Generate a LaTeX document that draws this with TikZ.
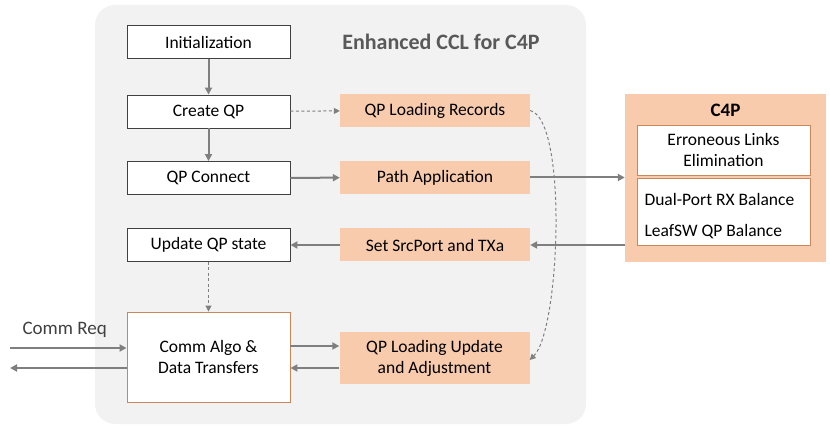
\documentclass[tikz,border=0pt]{standalone}
\usepackage{fontspec}
\setmainfont{Carlito}
\usetikzlibrary{arrows.meta}
\definecolor{bgc}{HTML}{F2F2F2}
\definecolor{org}{HTML}{F8CBAD}
\definecolor{orgb}{HTML}{C9875A}
\definecolor{arr}{HTML}{7F7F7F}
\definecolor{ttl}{HTML}{595959}
\begin{document}
\begin{tikzpicture}[x=1pt,y=-1pt,
  every node/.style={font=\fontsize{17.5}{21}\selectfont, text=black},
  wbox/.style={draw=black!75, line width=0.9pt, fill=white, minimum width=163pt, minimum height=33pt, inner sep=0pt},
  obox/.style={fill=org, minimum width=190pt, minimum height=33pt, inner sep=0pt, align=center},
  ibox/.style={draw=orgb, line width=0.9pt, fill=white, minimum width=173pt, inner sep=0pt, align=center},
  arw/.style={draw=arr, line width=2pt, -{Triangle[length=7pt,width=7pt]}},
  darw/.style={draw=arr, line width=1pt, dash pattern=on 3pt off 2.5pt, -{Triangle[length=6pt,width=6pt]}}
]
\useasboundingbox (0,0) rectangle (830,427);
\fill[bgc, rounded corners=20pt] (95,5) rectangle (586,424);
\node[font=\fontsize{22}{24}\selectfont\bfseries, text=ttl] (title) at (441,42) {Enhanced CCL for C4P};

\node[wbox] (init) at (208.5,42) {Initialization};
\node[wbox] (cqp) at (208.5,111.5) {Create QP};
\node[wbox] (qpc) at (208.5,178) {QP Connect};
\node[wbox] (upd) at (208.5,245) {Update QP state};
\node[wbox, draw=orgb, minimum height=90pt, align=center] (comm) at (208.5,357) {Comm Algo \&\\Data Transfers};

\node[obox] (rec) at (435,110.5) {QP Loading Records};
\node[obox] (path) at (435,177.5) {Path Application};
\node[obox] (src) at (435,245) {Set SrcPort and TXa};
\node[obox, minimum height=52pt] (lupd) at (434.5,358) {QP Loading Update\\and Adjustment};

\node[fill=org, minimum width=201pt, minimum height=168pt, inner sep=0pt] (c4p) at (725.5,178) {};
\node[font=\fontsize{19}{21}\selectfont\bfseries] (c4pt) at (725.5,110) {C4P};
\node[ibox, minimum height=50pt] (err) at (723.5,150) {Erroneous Links\\Elimination};
\node[ibox, minimum height=67pt] (bal) at (723.5,211.5) {};
\node[anchor=west] (dual) at (641,199) {Dual-Port RX Balance};
\node[anchor=west] (leaf) at (641,232) {LeafSW QP Balance};

\draw[arw] (init) -- (cqp);
\draw[arw] (cqp) -- (qpc);
\draw[darw] (upd) -- (comm);
\draw[darw] (cqp) -- (rec);
\draw[arw] (qpc) -- (path);
\draw[arw] (path.east) -- (c4p.west |- path.east);
\draw[arw] (c4p.west |- src.east) -- (src.east);
\draw[arw] (src) -- (upd);
\draw[arw] (comm.east |- 0,346) -- (lupd.west |- 0,346);
\draw[arw] (lupd.west |- 0,368) -- (comm.east |- 0,368);
\coordinate (cin) at (10,348);
\coordinate (cout) at (10,368);
\draw[arw] (cin) -- (comm.west |- cin);
\draw[arw] (comm.west |- cout) -- (cout);
\node[text=black!75, font=\fontsize{19}{21}\selectfont, anchor=west] (req) at (19,330) {Comm Req};
\draw[darw] (rec.east) .. controls (568,120) and (560,330) .. ([yshift=-2pt]lupd.east);
\end{tikzpicture}
\end{document}
